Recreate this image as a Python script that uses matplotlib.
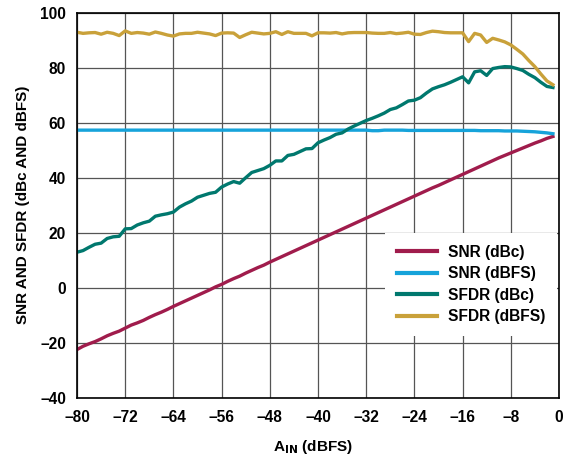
import matplotlib
matplotlib.use("Agg")
import matplotlib.pyplot as plt

plt.rcParams['font.family'] = ['Liberation Sans', 'DejaVu Sans']
plt.rcParams['font.weight'] = 'bold'

ain = list(range(-80, 0))

snr_dbc = [-22.5, -21.3, -20.4, -19.6, -18.6, -17.5, -16.6, -15.8, -14.7, -13.6,
           -12.8, -11.9, -10.8, -9.8, -8.9, -7.9, -6.8, -5.8, -4.8, -3.8,
           -2.8, -1.8, -0.8, 0.3, 1.2, 2.3, 3.3, 4.2, 5.3, 6.3,
           7.3, 8.2, 9.3, 10.3, 11.3, 12.3, 13.3, 14.3, 15.3, 16.3,
           17.3, 18.3, 19.3, 20.3, 21.3, 22.3, 23.3, 24.3, 25.3, 26.3,
           27.3, 28.3, 29.3, 30.3, 31.3, 32.3, 33.3, 34.3, 35.3, 36.3,
           37.2, 38.2, 39.2, 40.2, 41.2, 42.2, 43.2, 44.2, 45.2, 46.2,
           47.2, 48.1, 49.0, 49.9, 50.8, 51.7, 52.6, 53.4, 54.3, 55.0]

snr_dbfs = [57.3, 57.3, 57.3, 57.3, 57.3, 57.3, 57.3, 57.3, 57.3, 57.3,
            57.3, 57.3, 57.3, 57.3, 57.3, 57.3, 57.3, 57.3, 57.3, 57.3,
            57.3, 57.3, 57.3, 57.3, 57.3, 57.3, 57.3, 57.3, 57.3, 57.3,
            57.3, 57.3, 57.3, 57.3, 57.3, 57.3, 57.3, 57.3, 57.3, 57.3,
            57.3, 57.3, 57.3, 57.3, 57.3, 57.3, 57.3, 57.3, 57.3, 57.1,
            57.1, 57.3, 57.3, 57.3, 57.3, 57.2, 57.2, 57.2, 57.2, 57.2,
            57.2, 57.2, 57.2, 57.2, 57.2, 57.2, 57.2, 57.1, 57.1, 57.1,
            57.1, 57.0, 57.0, 57.0, 56.9, 56.8, 56.7, 56.5, 56.3, 56.0]

sfdr_dbc = [12.9, 13.5, 14.7, 15.8, 16.2, 17.9, 18.5, 18.7, 21.4, 21.5,
            22.8, 23.6, 24.2, 26.0, 26.5, 26.9, 27.5, 29.3, 30.5, 31.5,
            32.9, 33.6, 34.3, 34.7, 36.6, 37.7, 38.6, 38.0, 40.0, 41.9,
            42.6, 43.3, 44.5, 46.1, 46.1, 48.1, 48.5, 49.5, 50.5, 50.6,
            52.7, 53.7, 54.6, 55.8, 56.3, 57.7, 58.8, 59.8, 60.8, 61.6,
            62.5, 63.5, 64.8, 65.4, 66.6, 67.9, 68.2, 69.1, 70.8, 72.3,
            73.1, 73.8, 74.7, 75.7, 76.7, 74.5, 78.5, 78.9, 77.2, 79.7,
            80.1, 80.4, 80.3, 79.7, 79.0, 77.6, 76.4, 74.7, 73.2, 72.8]

sfdr_dbfs = [92.9, 92.5, 92.7, 92.8, 92.2, 92.9, 92.5, 91.7, 93.4, 92.5,
             92.8, 92.6, 92.2, 93.0, 92.5, 91.9, 91.5, 92.3, 92.5, 92.5,
             92.9, 92.6, 92.3, 91.7, 92.6, 92.7, 92.6, 91.0, 92.0, 92.9,
             92.6, 92.3, 92.5, 93.1, 92.1, 93.1, 92.5, 92.5, 92.5, 91.6,
             92.7, 92.7, 92.6, 92.8, 92.3, 92.7, 92.8, 92.8, 92.8, 92.6,
             92.5, 92.5, 92.8, 92.4, 92.6, 92.9, 92.2, 92.1, 92.8, 93.3,
             93.1, 92.8, 92.7, 92.7, 92.7, 89.5, 92.5, 91.9, 89.2, 90.7,
             90.1, 89.4, 88.3, 86.7, 85.0, 82.6, 80.4, 77.7, 75.2, 73.8]

labels = ['SNR (dBc)', 'SNR (dBFS)', 'SFDR (dBc)', 'SFDR (dBFS)']
colors = ['#A01C4C', '#16A3DA', '#00786E', '#C9A13A']
xticks = list(range(-80, 1, 8))
yticks = list(range(-40, 101, 20))

fig = plt.figure(figsize=(5.68, 4.55), dpi=100)
ax = fig.add_axes([0.1356, 0.126, 0.9841 - 0.1356, 0.972 - 0.126])

for y, lab, c in zip([snr_dbc, snr_dbfs, sfdr_dbc, sfdr_dbfs], labels, colors):
    ax.plot(ain, y, color=c, lw=2.4, label=lab, solid_joinstyle='round')

ax.set_xlim(-80, 0)
ax.set_ylim(-40, 100)
ax.set_xticks(xticks)
ax.set_yticks(yticks)
ax.set_xticklabels([str(t).replace('-', '\u2013') for t in xticks])
ax.set_yticklabels([str(t).replace('-', '\u2013') for t in yticks])
ax.tick_params(length=0, labelsize=11.2)
ax.tick_params(axis='x', pad=9)
ax.tick_params(axis='y', pad=8)
for lbl in ax.get_xticklabels() + ax.get_yticklabels():
    lbl.set_fontweight('bold')
ax.grid(True, color='#555555', lw=0.9)
ax.set_axisbelow(True)
for s in ax.spines.values():
    s.set_linewidth(1.2)
    s.set_color('black')

ax.set_xlabel(r'A$_{\mathbf{IN}}$ (dBFS)', fontsize=11, fontweight='bold')
ax.xaxis.set_label_coords(0.49, -0.105)
ax.set_ylabel('SNR AND SFDR (dBc AND dBFS)', fontsize=11, fontweight='bold', labelpad=7)

leg = ax.legend(loc='upper left', bbox_to_anchor=(0.639, 0.428), borderaxespad=0,
                frameon=True, fancybox=False, framealpha=1, edgecolor='none',
                fontsize=11.2, handlelength=2.6, handletextpad=0.7,
                labelspacing=0.42, borderpad=0.75)
leg.get_frame().set_linewidth(0)
for t in leg.get_texts():
    t.set_fontweight('bold')
for h in leg.get_lines():
    h.set_linewidth(3)

fig.savefig('out.png', dpi=100)
